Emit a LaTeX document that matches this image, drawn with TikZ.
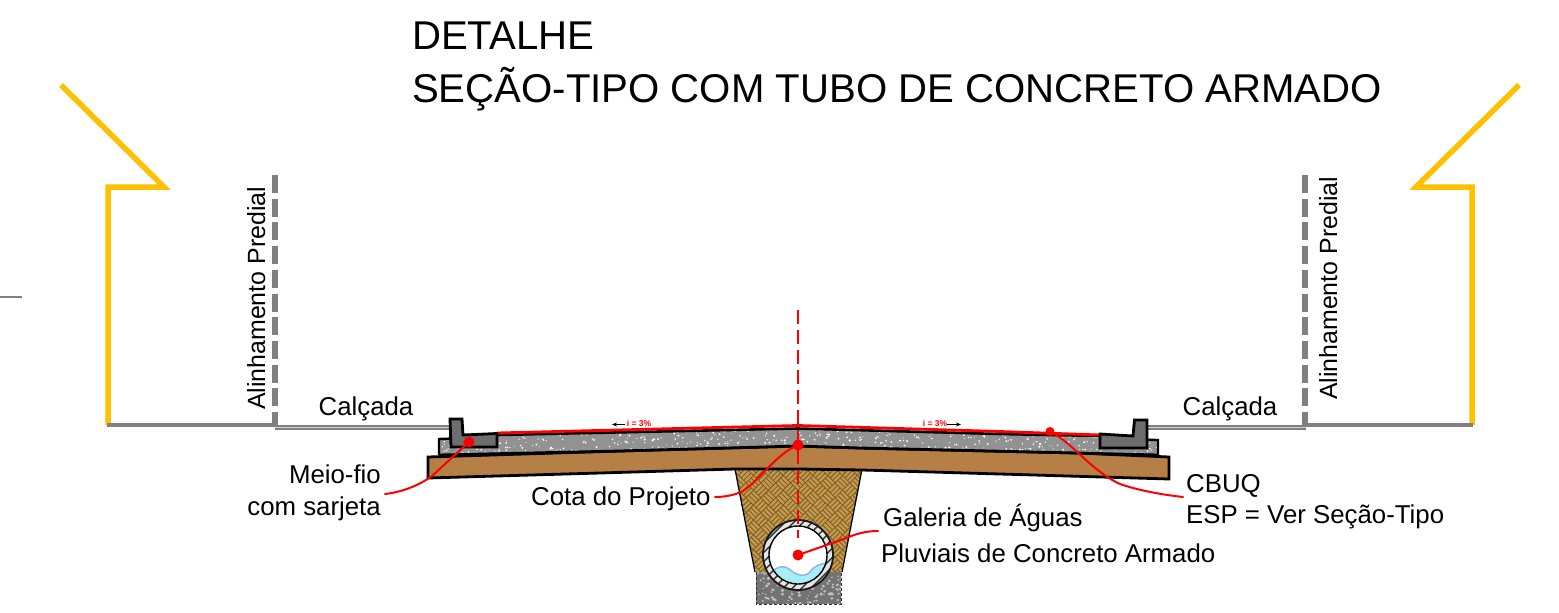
\documentclass[tikz,border=0pt]{standalone}
\usepackage{fontspec}
\setmainfont{Liberation Sans}
\usetikzlibrary{calc,arrows.meta}
\definecolor{brownbase}{HTML}{B57F46}
\definecolor{aggr}{HTML}{929292}
\definecolor{kerbgrey}{HTML}{6E6E6E}
\definecolor{gold}{HTML}{FFC000}
\definecolor{weavebg}{HTML}{C49A50}
\definecolor{weaveln}{HTML}{7F5E22}
\definecolor{lineg}{HTML}{808080}
\definecolor{waterc}{HTML}{A8EEF6}
\definecolor{waterl}{HTML}{8FB4E0}
\tikzset{
 x=1pt,y=-1pt,
 lbl/.style={font=\fontsize{25.8}{30}\selectfont,inner sep=0pt,text=black},
 alb/.style={font=\fontsize{24.9}{30}\selectfont,inner sep=0pt,text=black,rotate=90,anchor=base west},
 ttl/.style={font=\fontsize{40.15}{46}\selectfont,inner sep=0pt,anchor=base west,text=black},
 tiny3/.style={font=\fontsize{8.5}{9}\selectfont\bfseries,inner sep=0pt,text=red},
 sect/.style={draw=black,line width=2.8pt,line join=miter},
 leader/.style={draw=red,line width=2pt,line cap=round},
 reddot/.style={circle,fill=red,inner sep=0pt,minimum size=11pt},
 alin/.style={draw=lineg,line width=6pt,dash pattern=on 18pt off 5.7pt},
 ground/.style={draw=lineg,line width=3.6pt},
 walk/.style={draw=lineg,line width=5pt},
 walkin/.style={draw=white!65!lineg,line width=1.8pt},
 yellowline/.style={draw=gold,line width=5.5pt,line join=miter,miter limit=10}
}
\begin{document}
\begin{tikzpicture}
\useasboundingbox (0,0) rectangle (1559,613);
\fill[white] (0,0) rectangle (1559,613);
\pgfmathsetseed{42}

% titles
\node[ttl] (t1) at (412,49) {DETALHE};
\node[ttl] (t2) at (412,102) {SEÇÃO-TIPO COM TUBO DE CONCRETO ARMADO};

% stray line
\coordinate (sa) at (0,297); \coordinate (sb) at (22,297);
\draw[lineg,line width=1.5pt] (sa) -- (sb);

% yellow building outlines
\coordinate (yl0) at (108,425); \coordinate (yl1) at (108,187); \coordinate (yl2) at (164,187); \coordinate (yl3) at (61,85);
\draw[yellowline] (yl0) -- (yl1) -- (yl2) -- (yl3);
\coordinate (yr0) at (1472,425); \coordinate (yr1) at (1472,187); \coordinate (yr2) at (1416,187); \coordinate (yr3) at (1519,85);
\draw[yellowline] (yr0) -- (yr1) -- (yr2) -- (yr3);

% ground and walks
\coordinate (gl0) at (107,425); \coordinate (gl1) at (276,425);
\coordinate (gr0) at (1304,425); \coordinate (gr1) at (1473,425);
\draw[ground] (gl0) -- (gl1);
\draw[ground] (gr0) -- (gr1);
\coordinate (wl0) at (275,427.5); \coordinate (wl1) at (451,427.5);
\coordinate (wr0) at (1146,427.5); \coordinate (wr1) at (1306,427.5);
\draw[walk] (wl0) -- (wl1); \draw[walkin] (wl0) -- (wl1);
\draw[walk] (wr0) -- (wr1); \draw[walkin] (wr0) -- (wr1);

% alignment lines
\coordinate (al0) at (275,425); \coordinate (al1) at (275,175);
\coordinate (ar0) at (1305,425); \coordinate (ar1) at (1305,175);
\draw[alin] (al1) -- (al0);
\draw[alin] (ar1) -- (ar0);
\node[alb] (alL) at (265,410) {Alinhamento Predial};
\node[alb] (alR) at (1337,400) {Alinhamento Predial};

% trench with basket weave
\begin{scope}
\clip (735,469) -- (862,469) -- (841,573) -- (756,573) -- cycle;
\fill[weavebg] (730,465) rectangle (870,580);
\begin{scope}[shift={(798,520)},rotate=45]
\foreach \i in {-8,...,8}{
 \foreach \j in {-8,...,8}{
  \pgfmathtruncatemacro{\parit}{mod(abs(\i+\j),2)}
  \ifnum\parit=0
   \foreach \k in {0,3.5,7,10.5}
    \draw[weaveln,line width=.9pt] (\i*10.5,\j*10.5+\k) -- ++(10.5,0);
  \else
   \foreach \k in {0,3.5,7,10.5}
    \draw[weaveln,line width=.9pt] (\i*10.5+\k,\j*10.5) -- ++(0,10.5);
  \fi
 }
}
\end{scope}
\end{scope}
\draw[black,line width=1.3pt] (735,469) -- (755,572);
\draw[black,line width=1.3pt] (862,469) -- (842,572);

% bedding
\begin{scope}
\clip (756,572) rectangle (841,604);
\fill[black!55] (756,572) rectangle (841,604);
\foreach \i in {1,...,110}{
 \pgfmathsetmacro{\px}{756+85*rnd}
 \pgfmathsetmacro{\py}{572+32*rnd}
 \pgfmathsetmacro{\pr}{.7+1.3*rnd}
 \fill[black!25] (\px,\py) ellipse[x radius=\pr pt,y radius=.8*\pr pt];
}
\end{scope}
\draw[black!80,line width=1pt,densely dashed] (756,572) -- (756,604) -- (841,604) -- (841,572);

% base layer
\path[sect,fill=brownbase] (428,457) -- (620,451) -- (798,446) -- (860,448) -- (1077,453) -- (1169,457) -- (1169,479) -- (1000,474) -- (862,470) -- (798,469) -- (735,469) -- (600,473) -- (428,478) -- cycle;

% asphalt aggregate
\begin{scope}
\clip (439,439) -- (497,434) -- (798,428) -- (1000,434) -- (1158,440) -- (1158,455) -- (1077,453) -- (860,448) -- (798,446) -- (620,451) -- (439,455) -- cycle;
\fill[aggr] (430,420) rectangle (1165,460);
\foreach \i in {1,...,620}{
 \pgfmathsetmacro{\px}{439+719*rnd}
 \pgfmathsetmacro{\py}{428+27*rnd}
 \pgfmathsetmacro{\pr}{.4+.8*rnd}
 \fill[white!92!aggr] (\px,\py) circle[radius=\pr pt];
}
\end{scope}
\draw[black,line width=2.4pt,line join=miter] (439,455) -- (439,439) -- (497,437);
\draw[black,line width=2.4pt,line join=miter] (1100,439) -- (1158,440) -- (1158,455);
\draw[black,line width=2.8pt] (439,455) -- (620,451) -- (798,446) -- (860,448) -- (1077,453) -- (1158,455);
\draw[black,line width=2.6pt] (497,435) -- (798,428.5) -- (1000,434) -- (1100,436);
\draw[red,line width=2.8pt] (497,433) -- (798,425.5) -- (1000,431.5) -- (1100,435);

% kerbs
\path[sect,fill=kerbgrey] (450,419) -- (462,419) -- (463,435) -- (497,433.5) -- (497,447) -- (451,447) -- cycle;
\path[sect,fill=kerbgrey] (1134.5,420) -- (1147,420) -- (1147,448) -- (1100,448) -- (1100,434) -- (1133,436) -- cycle;

% pipe
\coordinate (pc) at (798,555);
\begin{scope}
\clip (pc) circle[radius=35];
\fill[black!10] (pc) circle[radius=35];
\foreach \k in {-8,...,8}
 \draw[black!80,line width=1.4pt] ($(pc)+(\k*9.2-45,45)$) -- ++(90,-90);
\end{scope}
\fill[white] (pc) circle[radius=29];
\begin{scope}
\clip (pc) circle[radius=28.5];
\path[fill=waterc,draw=waterl,line width=1.4pt] (772,572) .. controls (778,566) and (783,565) .. (789,569) .. controls (796,575) and (804,578) .. (810,572) .. controls (815,565) and (820,564) .. (827,563) -- (835,590) -- (770,590) -- cycle;
\end{scope}
\draw[black,line width=1.4pt] (pc) circle[radius=29];
\draw[black!90,line width=1.8pt] (pc) circle[radius=35];

% centre line
\coordinate (cl0) at (798,310); \coordinate (cl1) at (798,538);
\draw[red,line width=1.3pt,dash pattern=on 14pt off 6pt] (cl0) -- (cl1);

% labels
\node[lbl,anchor=base] (calL) at (366,415) {Calçada};
\node[lbl,anchor=base] (calR) at (1230,415) {Calçada};
\node[lbl,anchor=base east] (mf1) at (381,483) {Meio-fio};
\node[lbl,anchor=base east] (mf2) at (381,515) {com sarjeta};
\node[lbl,anchor=base west] (cota) at (531,505) {Cota do Projeto};
\node[lbl,anchor=base west] (gal1) at (883,526) {Galeria de Águas};
\node[lbl,anchor=base west] (gal2) at (881,562) {Pluviais de Concreto Armado};
\node[lbl,anchor=base west] (cb1) at (1186,492) {CBUQ};
\node[lbl,anchor=base west] (cb2) at (1186,523) {ESP = Ver Seção-Tipo};

% slope marks
\node[tiny3] (i1) at (639,423.5) {i = 3\%};
\node[tiny3] (i2) at (935,423.5) {i = 3\%};
\coordinate (a1) at (612,424.5); \coordinate (a2) at (961,424.5);
\coordinate (b1) at (625,424.5); \coordinate (b2) at (947,424.5);
\draw[black,line width=1pt,-{Stealth[length=5pt,width=4pt]}] (b1) -- (a1);
\draw[black,line width=1pt,-{Stealth[length=5pt,width=4pt]}] (b2) -- (a2);

% leaders
\node[reddot] (d1) at (469,442) {};
\node[reddot] (d2) at (798,445) {};
\node[reddot,minimum size=9pt] (d3) at (1050,431.5) {};
\node[reddot] (d4) at (798,555) {};
\coordinate (e1) at (385,494);
\coordinate (e2) at (715,497);
\coordinate (e3) at (1183,497);
\coordinate (e4) at (878,531);
\draw[leader] (d1.center) -- (432,476) .. controls (418,486) and (402,492) .. (e1);
\draw[leader] (d2.center) .. controls (775,455) and (762,478) .. (743,491) .. controls (735,495) and (725,497) .. (e2);
\draw[leader] (d3.center) .. controls (1072,442) and (1090,470) .. (1120,484) .. controls (1140,491) and (1165,495) .. (e3);
\draw[leader] (d4.center) -- (838,541) .. controls (850,537) and (860,531) .. (e4);
\end{tikzpicture}
\end{document}
